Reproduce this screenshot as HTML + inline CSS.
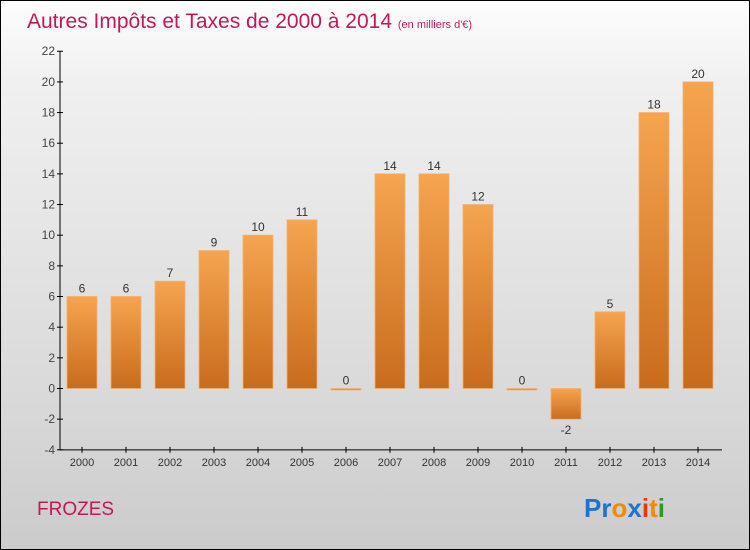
<!DOCTYPE html>
<html><head><meta charset="utf-8"><style>
body{margin:0;}
#c{position:relative;width:748px;height:548px;border:1px solid #000;background:linear-gradient(#fdfdfd,#f0f0f0 15%,#d8d8d8 75%,#cbcbcb);font-family:"Liberation Sans",sans-serif;overflow:hidden}
</style></head><body>
<div id="c">
<svg width="748" height="548">
<defs><linearGradient id="g" x1="0" y1="0" x2="0" y2="1"><stop offset="0" stop-color="#f6a450"/><stop offset="1" stop-color="#c86c1c"/></linearGradient></defs>
<text x="26" y="27" font-size="21" fill="#c2185b">Autres Impôts et Taxes de 2000 à 2014 <tspan font-size="11">(en milliers d'€)</tspan></text>
<g id="plot"></g>
<text x="36" y="514" font-size="19" fill="#c2185b">FROZES</text>
<text x="583" y="516" font-size="26" font-weight="bold"><tspan fill="#1b75d0">Pr</tspan><tspan fill="#f08a00">o</tspan><tspan fill="#1b75d0">x</tspan><tspan fill="#e53a00">i</tspan><tspan fill="#f08a00">t</tspan><tspan fill="#2a9a2a">i</tspan></text>
</svg>
</div>
<script>
const years=["2000","2001","2002","2003","2004","2005","2006","2007","2008","2009","2010","2011","2012","2013","2014"];
const values=[6,6,7,9,10,11,0,14,14,12,0,-2,5,18,20];
const ticks=[-4,-2,0,2,4,6,8,10,12,14,16,18,20,22];
const ns="http://www.w3.org/2000/svg";
const g=document.getElementById('plot');
const y=v=>387.5-v*15.33;
const x=i=>81+i*44;
function mk(t,a){const e=document.createElementNS(ns,t);for(const k in a)e.setAttribute(k,a[k]);g.appendChild(e);return e;}
let ax=mk('line',{x1:59,y1:y(22),x2:59,y2:y(-4),stroke:'#000'});


let bx=mk('line',{x1:59,y1:y(-4),x2:721,y2:y(-4),stroke:'#000'});


ticks.forEach(t=>{
 mk('line',{x1:56,x2:62,y1:y(t),y2:y(t),stroke:'#000'});
 const e=mk('text',{x:54,y:y(t)+4,'text-anchor':'end','font-size':12,fill:'#444'});e.textContent=t;
 
 
});
years.forEach((yr,i)=>{
 const v=values[i];
 mk('line',{x1:x(i),x2:x(i),y1:y(-4)-3,y2:y(-4)+3,stroke:'#000'});
 const t=mk('text',{x:x(i),y:y(-4)+16,'text-anchor':'middle','font-size':11,fill:'#333'});t.textContent=yr;
 
 
 const top=Math.min(y(v),y(0)),h=Math.max(Math.abs(y(v)-y(0)),1.5);
 const b=mk('rect',{x:x(i)-15,y:top,width:30,height:h,fill:'url(#g)',stroke:'#f4b070','stroke-width':0.8});
 
 
 const l=mk('text',{x:x(i),y:v<0?y(v)+15:y(v)-4,'text-anchor':'middle','font-size':12,fill:'#333'});l.textContent=v;
 
 
});
</script>
</body></html>
